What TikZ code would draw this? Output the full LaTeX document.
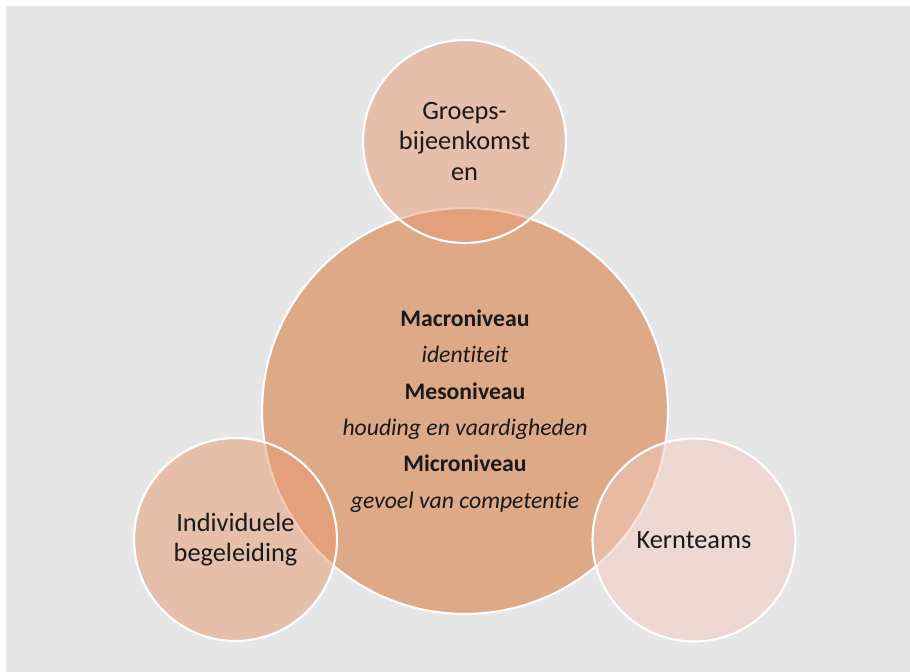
\documentclass[tikz,border=0pt]{standalone}
\usepackage{fontspec}
\setmainfont[Ligatures=NoCommon]{Carlito}
\usepackage{tikz}

\definecolor{pagegrey}{RGB}{230,230,230}
\definecolor{coreorange}{RGB}{222,169,135}
\definecolor{petalorange}{RGB}{230,154,114}
\definecolor{petalpink}{RGB}{244,204,192}

\begin{document}
\begin{tikzpicture}[%
  x=0.02cm, y=-0.02cm,
  ring/.style={circle, draw=white, line width=1.2pt, inner sep=0pt, align=center, text=black!90},
  core/.style={ring, fill=coreorange, minimum size=8.12cm,
    font=\fontsize{13.5}{20.7}\selectfont},
  petal/.style={ring, fill=petalorange, fill opacity=0.5, text opacity=1,
    minimum size=4.06cm, font=\fontsize{15}{17.5}\selectfont}]
  \useasboundingbox (0,0) rectangle (910,672);
  \fill[pagegrey] (6,6) rectangle (910,672);
  \node[core] (core) at (465,411) {\textbf{Macroniveau}\\ \textit{identiteit}\\
    \textbf{Mesoniveau}\\ \textit{houding en vaardigheden}\\
    \textbf{Microniveau}\\ \textit{gevoel van competentie}};
  \node[petal] (groeps) at (464.5,141.5) {Groeps-\\bijeenkomst\\en};
  \node[petal] (individueel) at (235.5,539.5) {Individuele\\begeleiding};
  \node[petal, fill=petalpink] (kernteams) at (694,540) {Kernteams};
\end{tikzpicture}
\end{document}
